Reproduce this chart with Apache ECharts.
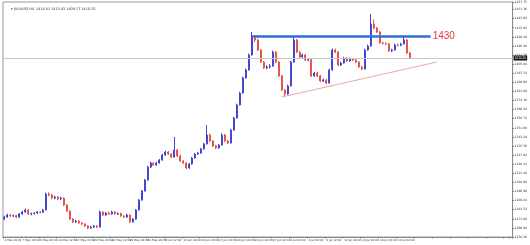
<!DOCTYPE html>
<html><head><meta charset="utf-8">
<script src="https://cdn.jsdelivr.net/npm/echarts@6/dist/echarts.min.js"></script>
<style>html,body{margin:0;padding:0;background:#fff}#c{width:530px;height:245px}</style>
</head><body><div id="c"></div>
<script>
// H4 candles: [open, close, low, high]
const ohlc = [
[1273.6,1275.3,1272.8,1276.4],[1275.3,1277.0,1274.6,1278.1],[1277.0,1276.2,1275.4,1278.0],[1276.2,1276.5,1275.3,1277.4],
[1276.5,1275.3,1274.4,1277.2],[1275.3,1277.9,1274.8,1278.8],[1277.9,1279.6,1277.2,1280.5],[1279.6,1281.3,1279.0,1282.4],
[1281.3,1277.9,1277.1,1282.0],[1277.9,1278.2,1276.8,1279.1],[1278.2,1278.7,1277.5,1279.6],[1278.7,1279.6,1278.0,1280.4],
[1279.6,1279.3,1278.4,1280.5],[1279.3,1281.3,1278.8,1282.2],[1281.3,1294.8,1280.9,1296.0],[1294.8,1294.0,1292.9,1296.2],
[1294.0,1291.4,1290.6,1294.7],[1291.4,1292.3,1290.5,1293.4],[1292.3,1290.6,1289.8,1293.1],[1290.6,1291.4,1289.9,1292.6],
[1291.4,1285.5,1284.7,1292.0],[1285.5,1280.4,1279.6,1286.3],[1280.4,1273.6,1272.7,1281.0],[1273.6,1271.1,1270.3,1274.4],
[1271.1,1271.9,1270.2,1273.0],[1271.9,1270.2,1269.5,1272.8],[1270.2,1269.4,1268.5,1271.1],[1269.4,1267.7,1266.9,1270.2],
[1267.7,1266.0,1265.2,1268.4],[1266.0,1266.8,1265.3,1267.9],[1266.8,1267.7,1266.1,1268.6],[1267.7,1266.8,1265.9,1268.5],
[1266.8,1279.6,1266.4,1280.8],[1279.6,1277.0,1276.2,1280.3],[1277.0,1278.7,1276.4,1279.6],[1278.7,1277.9,1277.0,1279.8],
[1277.9,1279.6,1277.3,1280.7],[1279.6,1277.9,1277.1,1280.2],[1277.9,1278.3,1277.0,1279.3],[1278.3,1276.2,1275.4,1279.0],
[1276.2,1275.3,1274.5,1276.9],[1275.3,1277.0,1274.6,1278.0],[1277.0,1271.1,1270.3,1277.6],[1271.1,1273.6,1270.5,1274.5],
[1273.6,1281.3,1273.0,1282.2],[1281.3,1289.7,1280.8,1290.6],[1289.7,1297.4,1289.1,1298.3],[1297.4,1306.7,1296.9,1307.6],
[1306.7,1317.7,1306.2,1318.8],[1317.7,1321.1,1316.9,1322.3],[1321.1,1319.4,1318.5,1322.0],[1319.4,1321.1,1318.7,1322.2],
[1321.1,1323.7,1320.5,1324.6],[1323.7,1327.9,1323.1,1328.9],[1327.9,1330.5,1327.2,1331.6],[1330.5,1328.8,1327.9,1331.3],
[1328.8,1326.2,1325.3,1329.5],[1326.2,1332.2,1325.7,1343.2],[1332.2,1327.1,1326.2,1333.1],[1327.1,1322.8,1322.0,1327.9],
[1322.8,1321.1,1320.2,1323.6],[1321.1,1316.9,1316.0,1321.9],[1316.9,1320.3,1316.2,1321.2],[1320.3,1325.4,1319.8,1326.3],
[1325.4,1328.8,1324.9,1329.7],[1328.8,1329.6,1328.0,1330.7],[1329.6,1333.0,1329.0,1334.0],[1333.0,1337.3,1332.4,1338.3],
[1337.3,1344.9,1336.8,1353.4],[1344.9,1339.8,1339.0,1346.0],[1339.8,1335.6,1334.8,1340.6],[1335.6,1333.9,1333.0,1336.5],
[1333.9,1336.4,1333.2,1337.4],[1336.4,1344.9,1335.9,1346.3],[1344.9,1339.8,1339.0,1345.8],[1339.8,1338.1,1337.2,1340.7],
[1338.1,1349.1,1337.6,1350.2],[1349.1,1359.3,1348.6,1360.4],[1359.3,1370.4,1358.8,1371.5],[1370.4,1380.5,1369.9,1381.6],
[1380.5,1393.3,1380.0,1394.4],[1393.3,1400.1,1392.7,1401.3],[1400.1,1412.8,1399.5,1414.0],[1412.8,1427.2,1412.2,1432.3],
[1427.2,1425.5,1423.8,1429.6],[1425.5,1417.0,1416.1,1426.4],[1417.0,1406.8,1405.9,1417.8],[1406.8,1401.8,1400.9,1407.7],
[1401.8,1402.6,1400.8,1404.0],[1402.6,1403.4,1401.5,1405.1],[1403.4,1415.3,1402.9,1416.5],[1415.3,1406.8,1405.9,1416.2],
[1406.8,1395.0,1394.1,1407.6],[1395.0,1383.1,1382.2,1395.9],[1383.1,1379.7,1377.1,1384.0],[1379.7,1386.5,1379.0,1387.6],
[1386.5,1406.8,1386.0,1408.0],[1406.8,1425.5,1406.3,1428.9],[1425.5,1415.3,1414.4,1426.3],[1415.3,1411.1,1410.2,1416.1],
[1411.1,1412.8,1410.4,1413.9],[1412.8,1408.5,1407.6,1413.6],[1408.5,1408.8,1407.4,1410.0],[1408.8,1395.0,1394.1,1409.6],
[1395.0,1397.5,1394.3,1398.6],[1397.5,1395.0,1394.1,1398.4],[1395.0,1390.7,1389.8,1395.9],[1390.7,1391.6,1389.9,1392.7],
[1391.6,1389.0,1388.1,1392.4],[1389.0,1400.1,1388.5,1401.2],[1400.1,1417.0,1399.6,1418.2],[1417.0,1415.3,1414.4,1418.1],
[1415.3,1404.3,1403.4,1416.1],[1404.3,1406.0,1403.5,1407.1],[1406.0,1410.2,1405.4,1411.3],[1410.2,1407.7,1406.8,1411.0],
[1407.7,1409.4,1407.0,1410.5],[1409.4,1408.5,1407.6,1410.3],[1408.5,1406.8,1405.9,1409.3],[1406.8,1402.6,1401.7,1407.6],
[1402.6,1400.9,1400.0,1403.5],[1400.9,1417.0,1400.4,1418.2],[1417.0,1420.4,1416.4,1421.5],[1420.4,1439.1,1419.9,1447.6],
[1439.1,1435.7,1434.8,1443.0],[1435.7,1432.3,1431.4,1436.6],[1432.3,1423.0,1422.1,1433.1],[1423.0,1422.6,1421.7,1424.1],
[1422.6,1422.1,1421.2,1423.5],[1422.1,1416.2,1415.3,1422.9],[1416.2,1417.0,1415.4,1418.1],[1417.0,1421.3,1416.5,1422.4],
[1421.3,1421.0,1420.1,1422.3],[1421.0,1422.1,1420.2,1423.2],[1422.1,1425.5,1421.6,1428.1],[1425.5,1414.5,1413.6,1426.3],
[1414.5,1410.2,1409.3,1415.4]
];
const timeLabels = ["2 May 2019","7 May 04:00","9 May 20:00","14 May 12:00","17 May 04:00","21 May 20:00","24 May 12:00","29 May 04:00","31 May 20:00","5 Jun 12:00","10 Jun 04:00","12 Jun 20:00","17 Jun 12:00","20 Jun 04:00","24 Jun 20:00","27 Jun 12:00","2 Jul 04:00","4 Jul 20:00","9 Jul 12:00","12 Jul 04:00","16 Jul 20:00","19 Jul 12:00","24 Jul 04:00"];
const headerText = "\u25BE XAUUSD,H4  1414.52 1415.43 1409.27 1410.20";
const resistance = {from: 83, to: 143, value: 1429, label: "1430"};
const trendline = {from: [93, 1377.1], to: [145, 1406.8]};
const lastPrice = 1410.2;
const yMin = 1258.36, yMax = 1457.75, yStep = 7.72;
const slots = 171, labelEvery = 6;

const cats = [];
for (let i = 0; i < slots; i++) {
  const k = i / labelEvery;
  cats.push(i % labelEvery === 0 && k < timeLabels.length ? timeLabels[k] : '');
}

const chart = echarts.init(document.getElementById('c'), null, {renderer: 'canvas'});
chart.setOption({
  animation: false,
  title: {text: headerText, left: 6, top: 3, textStyle: {fontSize: 3.4, color: '#333', fontWeight: 'normal', fontFamily: 'DejaVu Sans'}},
  grid: {left: 3, right: 13, top: 2, bottom: 8, show: true, borderColor: '#9a9a9a', borderWidth: 1, backgroundColor: '#fff'},
  xAxis: {
    type: 'category', data: cats, boundaryGap: true,
    axisLine: {lineStyle: {color: '#8a8a8a', width: 1}},
    axisTick: {show: true, interval: labelEvery - 1, length: 1.5, lineStyle: {color: '#777'}},
    axisLabel: {interval: 0, fontSize: 2.8, color: '#333', margin: 2, align: 'left', fontFamily: 'DejaVu Sans'},
    splitLine: {show: false}
  },
  yAxis: {
    type: 'value', position: 'right', min: yMin, max: yMax, interval: yStep, scale: true,
    axisLine: {show: true, lineStyle: {color: '#8a8a8a', width: 1}},
    axisTick: {show: true, inside: false, length: 1.5, lineStyle: {color: '#777'}},
    axisLabel: {fontSize: 3, color: '#333', margin: 2, formatter: v => v.toFixed(2), fontFamily: 'DejaVu Sans'},
    splitLine: {show: false}
  },
  series: [{
    type: 'candlestick', data: ohlc, barWidth: 1.5,
    itemStyle: {color: '#4646d2', color0: '#e8544c', borderColor: '#4646d2', borderColor0: '#e8544c', borderWidth: 1},
    markLine: {
      silent: true, symbol: ['none', 'none'],
      data: [
        {yAxis: lastPrice, lineStyle: {color: '#c8c8c8', width: 1, type: 'solid'},
         label: {show: true, position: 'end', distance: 1, formatter: lastPrice.toFixed(2), color: '#fff', backgroundColor: '#111', fontSize: 3.2, padding: [1, 1]}},
        [{coord: [resistance.from, resistance.value], lineStyle: {color: '#2e6fd8', width: 2.6, type: 'solid'},
          label: {show: true, position: 'end', distance: 2, formatter: resistance.label, color: '#e8323c', fontSize: 10, fontFamily: 'Liberation Sans'}},
         {coord: [resistance.to, resistance.value]}],
        [{coord: trendline.from, lineStyle: {color: '#f2a3a3', width: 1, type: 'solid'}, label: {show: false}},
         {coord: trendline.to}]
      ]
    }
  }]
});
</script></body></html>
